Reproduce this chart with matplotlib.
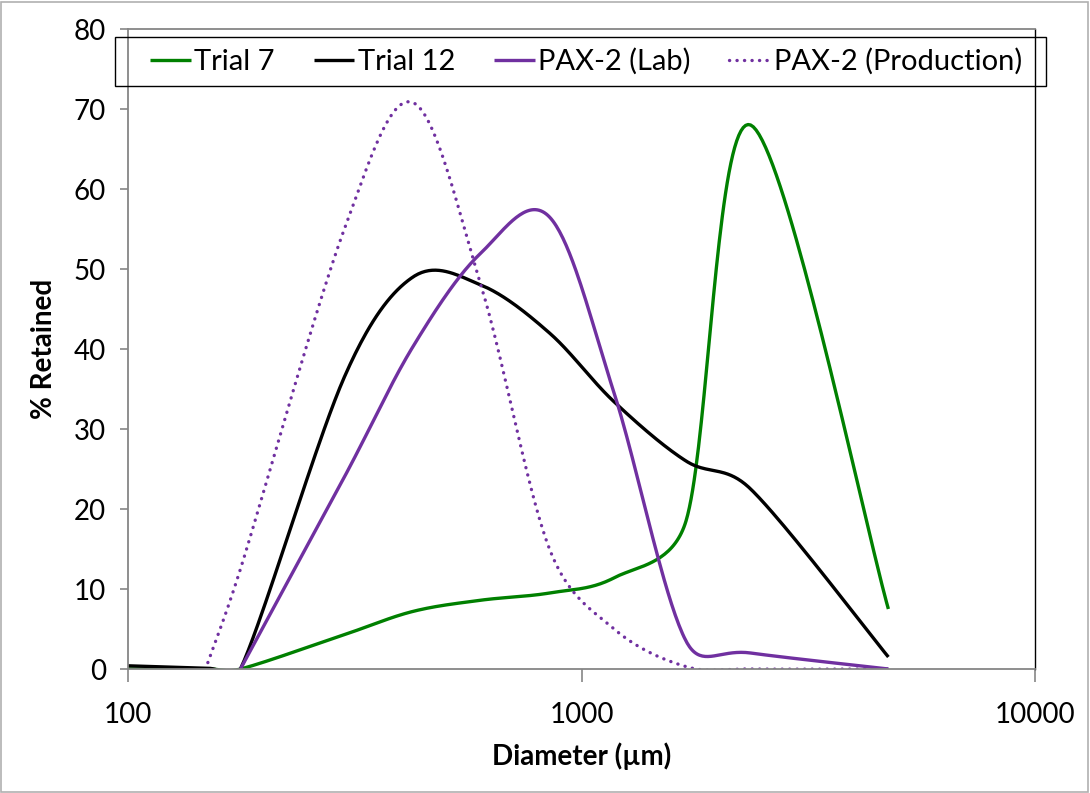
import numpy as np
import matplotlib
matplotlib.use("Agg")
from matplotlib import pyplot as plt
from matplotlib.patches import Rectangle

plt.rcParams['font.family'] = ['Lato', 'DejaVu Sans']

# sieve sizes (um) and % retained
size_trial7 = [100, 150, 177, 300, 425, 600, 850, 1180, 1700, 2360, 4750]
trial7 = [0, 0, 0, 4.3, 7.2, 8.6, 9.5, 11.4, 18.5, 68.0, 7.5]

size_trial12 = [100, 150, 177, 300, 425, 600, 850, 1180, 1700, 2360, 4750]
trial12 = [0.4, 0.1, 0, 36.5, 49.0, 48.0, 42.0, 33.4, 26.0, 22.5, 1.5]

size_lab = [177, 300, 425, 600, 850, 1180, 1700, 2360, 4750]
pax_lab = [0, 24.0, 40.3, 52.0, 56.5, 34.5, 3.5, 2.0, 0]

size_prod = [150, 177, 300, 425, 600, 850, 1180, 1700, 2360, 4750]
pax_prod = [0.8, 12.5, 55.0, 70.8, 48.0, 15.0, 5.0, 0.3, 0, 0]

labels = ["Trial 7", "Trial 12", "PAX-2 (Lab)", "PAX-2 (Production)"]

# rough screen scale (px per decade, px per %) used for the smoothing only
SX, SY = 453.5, 8.0


def smooth(xs, ys, n=40):
    # Excel-style smoothed line: Bezier with 1/6 tangents, capped at half a segment
    p = np.column_stack([np.log10(np.asarray(xs, float)) * SX, np.asarray(ys, float) * SY])
    p = np.vstack([p[:1], p, p[-1:]])
    t = np.linspace(0, 1, n)[:, None]
    out = []
    for i in range(1, len(p) - 2):
        p0, p1, p2, p3 = p[i - 1], p[i], p[i + 1], p[i + 2]
        d12 = np.hypot(*(p2 - p1))
        d02 = np.hypot(*(p2 - p0))
        d13 = np.hypot(*(p3 - p1))
        f0 = 1 / 6 if d02 / 6 < d12 / 2 else d12 / 2 / d02
        f1 = 1 / 6 if d13 / 6 < d12 / 2 else d12 / 2 / d13
        c1 = p1 + (p2 - p0) * f0
        c2 = p2 - (p3 - p1) * f1
        b = (1 - t) ** 3 * p1 + 3 * (1 - t) ** 2 * t * c1 + 3 * (1 - t) * t ** 2 * c2 + t ** 3 * p2
        out.append(b)
    out = np.vstack(out)
    return 10 ** (out[:, 0] / SX), out[:, 1] / SY


fig = plt.figure(figsize=(10.9, 7.93), dpi=100)
ax = fig.add_axes([128 / 1090, 1 - 669 / 793, (1035 - 128) / 1090, (669 - 29) / 793])

green = '#008000'
purple = '#7030A0'
lw = 2.4

x, y = smooth(size_trial7, trial7)
ax.plot(x, y, color=green, lw=lw, label=labels[0], solid_capstyle='butt')
x, y = smooth(size_trial12, trial12)
ax.plot(x, y, color='black', lw=lw, label=labels[1], solid_capstyle='butt')
x, y = smooth(size_lab, pax_lab)
ax.plot(x, y, color=purple, lw=lw, label=labels[2], solid_capstyle='butt')
x, y = smooth(size_prod, pax_prod)
ax.plot(x, y, color=purple, lw=lw, ls=(0, (0.05, 2.2)), dash_capstyle='round',
        label=labels[3])

ax.set_xscale('log')
ax.set_xlim(100, 10000)
ax.set_ylim(0, 80)
ax.set_yticks(range(0, 81, 10))
ax.set_xticks([100, 1000, 10000])
ax.set_xticklabels(['100', '1000', '10000'])
ax.xaxis.set_minor_locator(matplotlib.ticker.NullLocator())
ax.tick_params(axis='both', labelsize=20, color='#868686', width=1.2)
ax.tick_params(axis='y', length=6, pad=10)
ax.tick_params(axis='x', length=9, pad=15)

for s in ['left', 'bottom', 'top']:
    ax.spines[s].set_color('#868686')
    ax.spines[s].set_linewidth(1.3)
ax.spines['right'].set_color('black')
ax.spines['right'].set_linewidth(1.0)

ax.set_xlabel('Diameter (µm)', fontsize=20, fontweight='bold', labelpad=10)
ax.set_ylabel('% Retained', fontsize=20, fontweight='bold', labelpad=12)

# legend box drawn separately, entries spread inside it
leg = ax.legend(loc='center', bbox_to_anchor=(150 / 1090, 1 - 86 / 793, 872 / 1090, 49 / 793),
                bbox_transform=fig.transFigure, ncol=4, mode='expand', fontsize=21,
                frameon=False, handlelength=1.4, handletextpad=0.12,
                borderpad=0, columnspacing=1.0, borderaxespad=0)
fig.patches.append(Rectangle((115 / 1090, 1 - 86 / 793), 931 / 1090, 49 / 793,
                             transform=fig.transFigure, fill=False, edgecolor='black',
                             lw=1.0, zorder=5))

fig.patches.append(Rectangle((0.001, 0.001), 0.997, 0.997, transform=fig.transFigure,
                             fill=False, edgecolor='#B0B0B0', lw=1.2))

fig.savefig('out.png', dpi=100)
